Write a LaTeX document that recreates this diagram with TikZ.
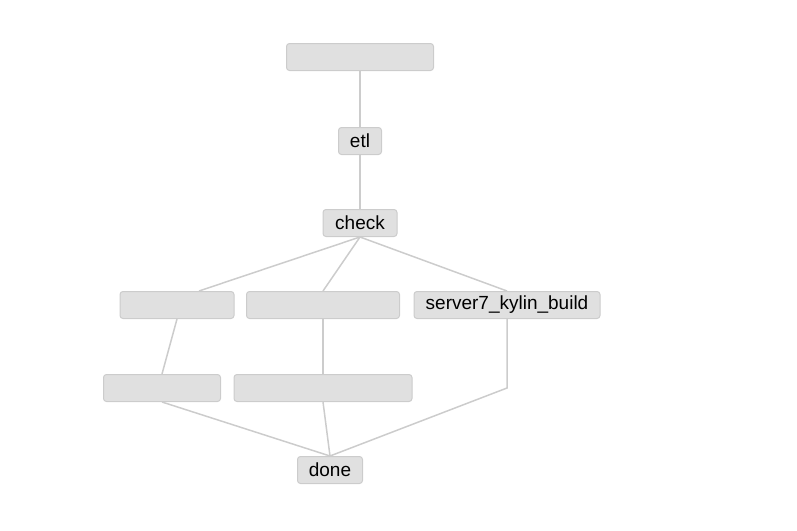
\documentclass[tikz,border=0pt]{standalone}
\usepackage{fontspec}
\setmainfont{Liberation Sans}
\definecolor{boxfill}{HTML}{E0E0E0}
\definecolor{boxline}{HTML}{CCCCCC}
\definecolor{edgecol}{HTML}{CCCCCC}
\begin{document}
\begin{tikzpicture}[x=1pt,y=-1pt,
  box/.style={draw=boxline,fill=boxfill,rounded corners=3pt,line width=1pt,
    inner sep=0pt,minimum height=27pt,font=\fontsize{19}{22}\selectfont,text=black},
  link/.style={draw=edgecol,line width=1.5pt}]
\useasboundingbox (0,0) rectangle (797,530);
\node[box,minimum width=147pt] (top) at (360,57) {};
\node[box,minimum width=43pt] (etl) at (360,141) {etl};
\node[box,minimum width=74pt] (check) at (360,223) {check};
\node[box,minimum width=114pt] (l1) at (177,305) {};
\node[box,minimum width=153pt] (m1) at (323,305) {};
\node[box,minimum width=186pt] (srv) at (507,305) {server7\_kylin\_build};
\node[box,minimum width=117pt] (l2) at (162,388) {};
\node[box,minimum width=178pt] (m2) at (323,388) {};
\node[box,minimum width=65pt] (done) at (330,470) {done};
\coordinate (bend) at (507,388);
\draw[link] (top.south) -- (etl.north);
\draw[link] (etl.south) -- (check.north);
\draw[link] (check.south) -- ([xshift=22pt]l1.north);
\draw[link] (check.south) -- (m1.north);
\draw[link] (check.south) -- (srv.north);
\draw[link] (l1.south) -- (l2.north);
\draw[link] (m1.south) -- (m2.north);
\draw[link] (srv.south) -- (bend) -- (done.north);
\draw[link] (l2.south) -- (done.north);
\draw[link] (m2.south) -- (done.north);
\end{tikzpicture}
\end{document}
